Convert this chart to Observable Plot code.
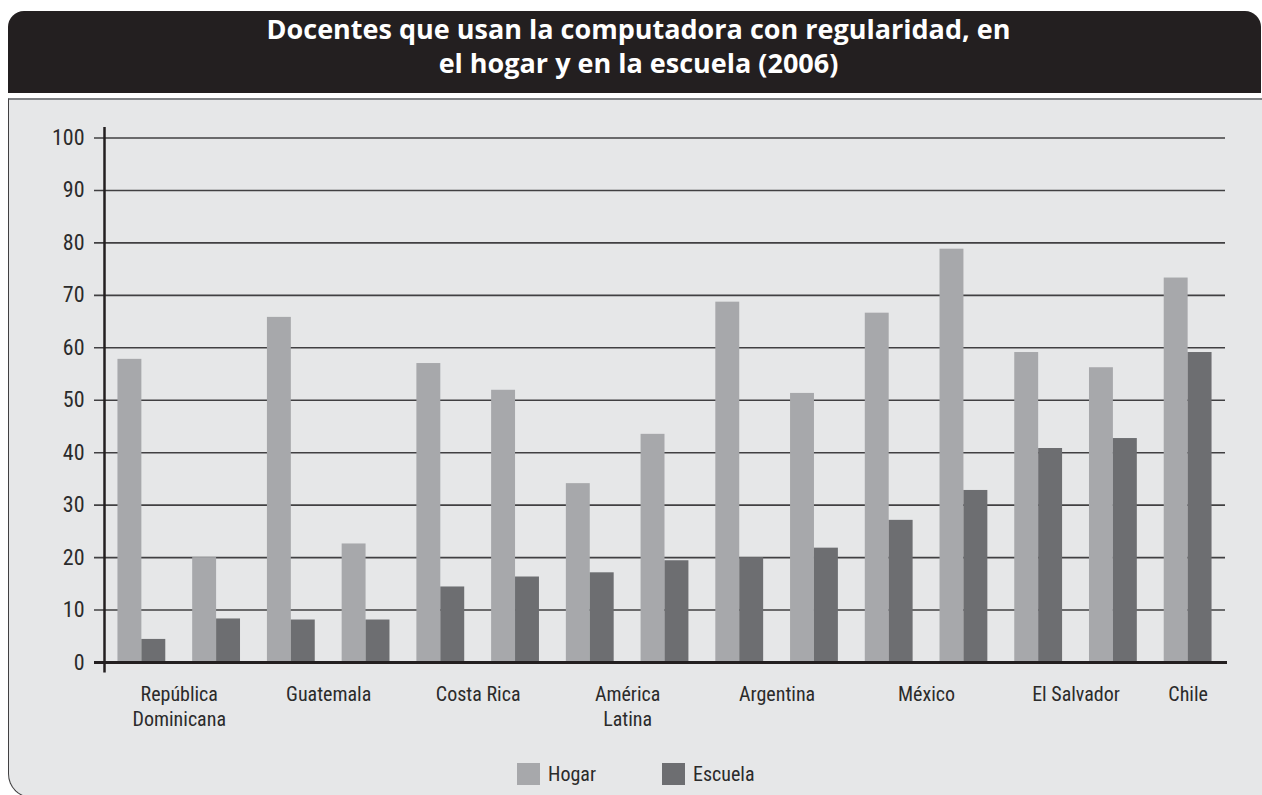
<!DOCTYPE html>
<html lang="es">
<head>
<meta charset="utf-8">
<script src="https://cdn.jsdelivr.net/npm/d3@7"></script>
<script src="https://cdn.jsdelivr.net/npm/@observablehq/plot@0.6"></script>
<style>
  html, body { margin: 0; padding: 0; background: #fff; }
  body { position: relative; width: 1262px; height: 795px; overflow: hidden; }
  #title {
    position: absolute; left: 8px; top: 11px; width: 1253px; height: 82px;
    background: #231f20; border-radius: 16px 16px 0 0;
    color: #fff; font: bold 27px "Open Sans", sans-serif; line-height: 34px;
    text-align: center; box-sizing: border-box; padding: 1px 0 0 8px;
  }
  #panel {
    position: absolute; left: 8px; top: 98px; width: 1270px; height: 700px;
    background: #e6e7e8; box-sizing: border-box;
    border-top: 2px solid #808285; border-left: 1.5px solid #414042;
    border-bottom: 1.5px solid #414042; border-bottom-left-radius: 24px;
  }
  #chart { position: absolute; left: 0; top: 99px; }
  .legend { position: absolute; top: 762px; display: flex; align-items: center;
    font: 20px "Liberation Sans Narrow", "Roboto Condensed", Roboto, sans-serif; color: #2b2b2b; }
  .legend span.sw { display: inline-block; width: 23px; height: 22px; margin-right: 8px; }
</style>
</head>
<body>
<div id="title">Docentes que usan la computadora con regularidad, en<br>el hogar y en la escuela (2006)</div>
<div id="panel"></div>
<div id="chart"></div>
<div class="legend" style="left:517px"><span class="sw" style="background:#a7a8ab"></span>Hogar</div>
<div class="legend" style="left:662px"><span class="sw" style="background:#6d6e71"></span>Escuela</div>
<script>
// Countries along the axis; each one owns one or two bar pairs.
const countries = ["República\nDominicana", "Guatemala", "Costa Rica", "América\nLatina",
                   "Argentina", "México", "El Salvador", "Chile"];
// Country index of each bar pair, left to right.
const pairCountry = [0, 0, 1, 1, 2, 2, 3, 3, 4, 4, 5, 5, 6, 6, 7];
// Percentage of teachers using a computer regularly.
const hogar   = [57.8, 20.0, 65.8, 22.6, 57.0, 51.9, 34.1, 43.5, 68.7, 51.3, 66.6, 78.8, 59.1, 56.2, 73.3];
const escuela = [ 4.4,  8.3,  8.1,  8.1, 14.4, 16.3, 17.1, 19.4, 20.0, 21.8, 27.1, 32.8, 40.8, 42.7, 59.1];
const yTicks = [0, 10, 20, 30, 40, 50, 60, 70, 80, 90, 100];

const pairs = hogar.map((h, i) => ({i, hogar: h, escuela: escuela[i]}));
const labels = countries.map((name, c) => ({
  name,
  at: d3.mean(pairCountry.map((k, i) => k === c ? i : null).filter(v => v !== null))
}));

const barW = 0.32; // bar width in pair units
const ink = "#2b2b2b";
const narrow = "'Liberation Sans Narrow', 'Roboto Condensed', Roboto, sans-serif";

const chart = Plot.plot({
  width: 1262, height: 640,
  marginLeft: 104, marginRight: 37, marginTop: 38.5, marginBottom: 77,
  style: {background: "transparent", overflow: "visible", color: ink},
  x: {type: "linear", domain: [-0.5, pairs.length - 0.5], axis: null},
  y: {domain: [0, 100], axis: null},
  marks: [
    Plot.ruleY(yTicks.filter(d => d > 0), {stroke: "#414042", strokeWidth: 1.6, insetLeft: -10}),
    Plot.rectY(pairs, {x1: d => d.i - barW, x2: d => d.i, y1: 0, y2: "hogar", fill: "#a7a8ab"}),
    Plot.rectY(pairs, {x1: d => d.i, x2: d => d.i + barW, y1: 0, y2: "escuela", fill: "#6d6e71"}),
    Plot.ruleY([0], {stroke: "#231f20", strokeWidth: 3, insetLeft: -10, insetRight: -2}),
    Plot.ruleX([-0.5], {y1: -2, y2: 102, stroke: "#231f20", strokeWidth: 2.5}),
    Plot.axisY(yTicks, {tickSize: 0, tickPadding: 20, fontSize: 22, fontFamily: narrow, fill: ink}),
    Plot.text(labels, {x: "at", y: () => 0, text: "name", dy: 21, lineAnchor: "top",
      lineHeight: 1.25, fontSize: 20, fontFamily: narrow, fill: ink})
  ]
});
document.getElementById("chart").append(chart);
</script>
</body>
</html>
